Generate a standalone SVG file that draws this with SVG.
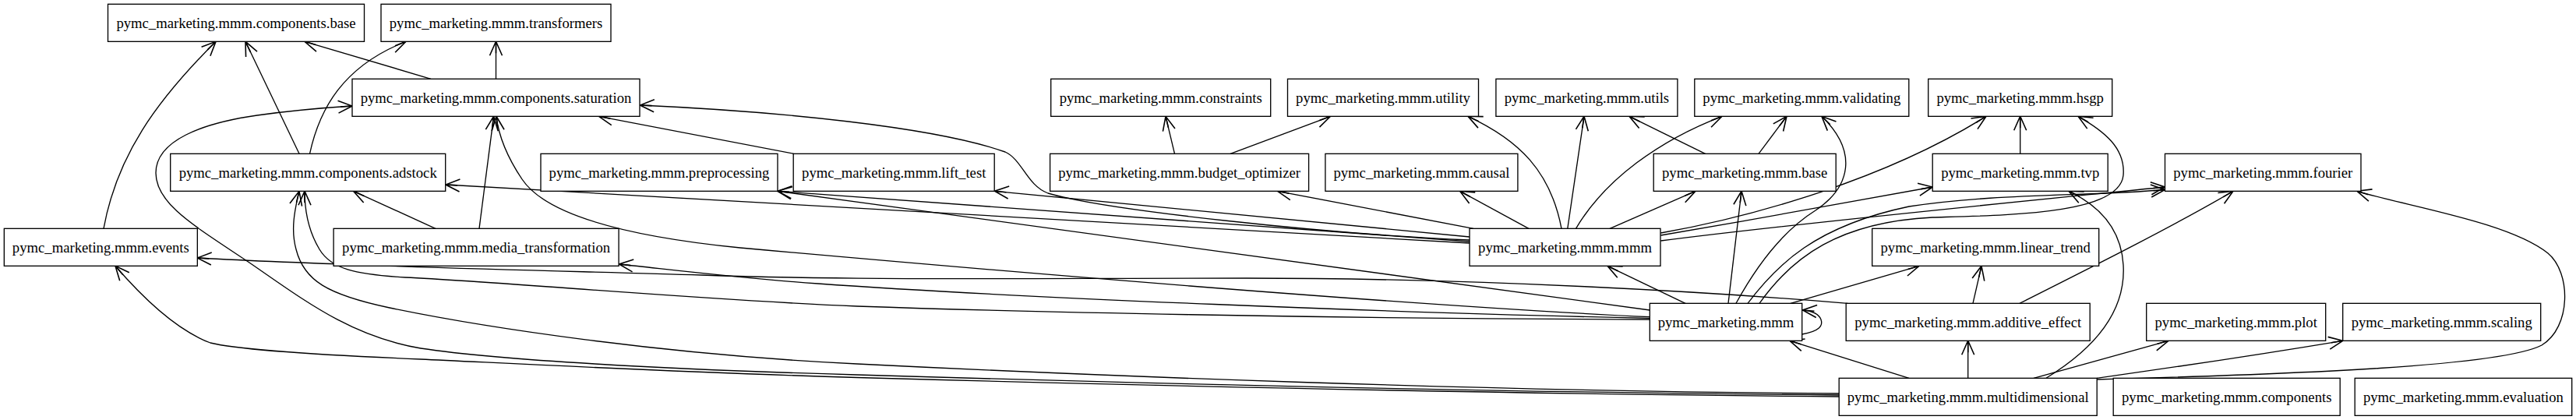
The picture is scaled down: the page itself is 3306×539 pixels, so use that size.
<svg xmlns="http://www.w3.org/2000/svg" width="3306" height="539" viewBox="0 0 3306 539">
<style>
.node rect{fill:#fff;stroke:#000;stroke-width:1.33}
.node text{font-family:"Liberation Serif","Times New Roman",serif;font-size:18.67px;text-anchor:middle;fill:#000}
.edges path{fill:none;stroke:#000;stroke-width:1.33;marker-end:url(#arr)}
</style>
<defs>
<marker id="arr" markerUnits="userSpaceOnUse" viewBox="-20 -10 24 20" markerWidth="24" markerHeight="20" refX="0" refY="0" orient="auto" overflow="visible">
<path d="M-18,-8 L0,0 L-18,8 M-15,0 L0,0" fill="none" stroke="#000" stroke-width="1.6" stroke-linejoin="miter"/>
</marker>
</defs>
<rect width="3306" height="539" fill="#fff"/>
<g class="edges" id="connectors">
<path d="M553,101.3 L391,53.3"/>
<path d="M636.5,101.3 L636.5,53.3"/>
<path d="M384,197.3 L315,53.3"/>
<path d="M397.5,197.3 C410,140 440,85 521,53.3"/>
<path d="M133,293.3 C150,200 200,130 277,53.3"/>
<path d="M559,293.3 L453.6,245.3"/>
<path d="M615,293.3 L633.6,149.3"/>
<path d="M1018.6,197.3 L768.6,149.3"/>
<path d="M1507.5,197.3 L1496,149.3"/>
<path d="M1579,197.3 L1707.5,149.3"/>
<path d="M1891,293.3 L1639.6,245.3"/>
<path d="M1962,293.3 L1873.6,245.3"/>
<path d="M2004,293.3 C1990,220 1950,180 1884,149.3"/>
<path d="M2011.8,293.3 L2033,149.3"/>
<path d="M2022.5,293.3 C2060,230 2130,180 2210,149.3"/>
<path d="M2066,293.3 L2176,245.3"/>
<path d="M2188.6,197.3 L2091,149.3"/>
<path d="M2257,197.3 L2293,149.3"/>
<path d="M1886,308 C1700,300 1420,270 1345,248 C1318,238 1312,205 1290,195 C1200,163 1000,143 821.5,135"/>
<path d="M1886,304 L1276.5,245.3"/>
<path d="M1886,310 L998,245.3"/>
<path d="M1886,312 L572,237"/>
<path d="M2131.4,302 C2250,282 2380,258 2480.2,240"/>
<path d="M2131.4,299 C2250,278 2420,230 2549,149.3"/>
<path d="M2131.4,309 C2300,287 2600,258 2778.5,240"/>
<path d="M2243,389.3 C2280,340 2330,290 2450,265 C2560,248 2680,252 2778.5,243.5"/>
<path d="M2258,389.3 C2300,330 2360,285 2480,279 C2580,276 2720,275 2725,225 C2728,190 2700,168 2667,149.3"/>
<path d="M2228,389.3 C2255,340 2290,295 2330,270 C2375,240 2385,195 2338,149.3"/>
<path d="M2218,389.3 L2235,245.3"/>
<path d="M2298,389.3 L2463,341.3"/>
<path d="M2163,389.3 L2063,341.3"/>
<path d="M2312.7,429 C2335,425 2340,418 2337,410 C2334,402 2325,399 2313.5,398"/>
<path d="M2117.3,398 L998,245.3"/>
<path d="M2117.3,406.7 C1800,392 1250,345 950,318 C800,303 700,275 670,230 C650,200 640,175 637,149.3"/>
<path d="M2117.3,408.3 C1800,402 1300,382 1050,364 C950,357 870,347 794.5,339"/>
<path d="M2117.3,410 C1700,409 1300,400 1100,393 C900,385 650,362 520,356 C455,352 425,345 410,320 C395,295 391,270 391,245.3"/>
<path d="M2360.2,505 C1900,502 1400,482 1100,467 C850,455 620,420 500,395 C420,378 390,360 380,320 C373,295 378,270 384,245.3"/>
<path d="M2360.2,507 C1900,503 1400,490 1100,481 C850,474 640,462 540,447 C450,432 390,385 320,337 C250,290 200,262 200,222 C200,180 260,158 330,148 C380,141 420,138 452,136"/>
<path d="M2360.2,509 C1900,505 1400,493 1100,484.5 C850,477 650,466 540,461 C420,456 310,450 270,440 C230,425 190,390 148,341.3"/>
<path d="M2371.4,389.3 C2200,375 1900,357 1600,357 C1300,357 1100,360 900,353 C700,347 450,342 253.3,331"/>
<path d="M2532,389.3 L2543,341.3"/>
<path d="M2592,389.3 C2680,345 2790,290 2866,245.3"/>
<path d="M2525.7,485.3 L2525.7,437.3"/>
<path d="M2450,485.3 L2297,437.3"/>
<path d="M2626,485.3 C2700,440 2728,390 2725,340 C2722,290 2690,262 2655,245.3"/>
<path d="M2610,485.3 L2783,437.3"/>
<path d="M2691,485.3 C2800,470 2900,455 3006.7,437.3"/>
<path d="M2691,487 C2950,480 3210,470 3262,443 C3300,420 3300,350 3270,325 C3220,285 3090,265 3025,245.3"/>
<path d="M2592.7,197.3 L2592.7,149.3"/>
</g>
<g class="node" id="n_components_base"><rect x="138.5" y="5.33" width="329" height="48"/><text x="303" y="35.8">pymc_marketing.mmm.components.base</text></g>
<g class="node" id="n_transformers"><rect x="489" y="5.33" width="295" height="48"/><text x="636.5" y="35.8">pymc_marketing.mmm.transformers</text></g>
<g class="node" id="n_saturation"><rect x="452" y="101.33" width="369" height="48"/><text x="636.5" y="131.8">pymc_marketing.mmm.components.saturation</text></g>
<g class="node" id="n_constraints"><rect x="1348.7" y="101.33" width="282" height="48"/><text x="1489.7" y="131.8">pymc_marketing.mmm.constraints</text></g>
<g class="node" id="n_utility"><rect x="1652.5" y="101.33" width="245" height="48"/><text x="1775" y="131.8">pymc_marketing.mmm.utility</text></g>
<g class="node" id="n_utils"><rect x="1919.9" y="101.33" width="233" height="48"/><text x="2036.4" y="131.8">pymc_marketing.mmm.utils</text></g>
<g class="node" id="n_validating"><rect x="2174.8" y="101.33" width="275" height="48"/><text x="2312.3" y="131.8">pymc_marketing.mmm.validating</text></g>
<g class="node" id="n_hsgp"><rect x="2474.7" y="101.33" width="236" height="48"/><text x="2592.7" y="131.8">pymc_marketing.mmm.hsgp</text></g>
<g class="node" id="n_adstock"><rect x="218.7" y="197.33" width="353" height="48"/><text x="395.2" y="227.8">pymc_marketing.mmm.components.adstock</text></g>
<g class="node" id="n_preprocessing"><rect x="694" y="197.33" width="304" height="48"/><text x="846" y="227.8">pymc_marketing.mmm.preprocessing</text></g>
<g class="node" id="n_lift_test"><rect x="1018.2" y="197.33" width="258" height="48"/><text x="1147.2" y="227.8">pymc_marketing.mmm.lift_test</text></g>
<g class="node" id="n_budget_optimizer"><rect x="1347.6" y="197.33" width="332" height="48"/><text x="1513.6" y="227.8">pymc_marketing.mmm.budget_optimizer</text></g>
<g class="node" id="n_causal"><rect x="1700.9" y="197.33" width="247" height="48"/><text x="1824.4" y="227.8">pymc_marketing.mmm.causal</text></g>
<g class="node" id="n_base"><rect x="2122.2" y="197.33" width="234" height="48"/><text x="2239.2" y="227.8">pymc_marketing.mmm.base</text></g>
<g class="node" id="n_tvp"><rect x="2480.2" y="197.33" width="225" height="48"/><text x="2592.7" y="227.8">pymc_marketing.mmm.tvp</text></g>
<g class="node" id="n_fourier"><rect x="2778.5" y="197.33" width="251.5" height="48"/><text x="2904.25" y="227.8">pymc_marketing.mmm.fourier</text></g>
<g class="node" id="n_events"><rect x="5.33" y="293.33" width="248" height="48"/><text x="129.33" y="323.8">pymc_marketing.mmm.events</text></g>
<g class="node" id="n_media_transformation"><rect x="428.1" y="293.33" width="366" height="48"/><text x="611.1" y="323.8">pymc_marketing.mmm.media_transformation</text></g>
<g class="node" id="n_mmm_mmm"><rect x="1886" y="293.33" width="245" height="48"/><text x="2008.5" y="323.8">pymc_marketing.mmm.mmm</text></g>
<g class="node" id="n_linear_trend"><rect x="2402.7" y="293.33" width="291" height="48"/><text x="2548.2" y="323.8">pymc_marketing.mmm.linear_trend</text></g>
<g class="node" id="n_mmm"><rect x="2117.3" y="389.33" width="195.4" height="48"/><text x="2215" y="419.8">pymc_marketing.mmm</text></g>
<g class="node" id="n_additive_effect"><rect x="2369.2" y="389.33" width="313" height="48"/><text x="2525.7" y="419.8">pymc_marketing.mmm.additive_effect</text></g>
<g class="node" id="n_plot"><rect x="2754.7" y="389.33" width="230" height="48"/><text x="2869.7" y="419.8">pymc_marketing.mmm.plot</text></g>
<g class="node" id="n_scaling"><rect x="3006.7" y="389.33" width="254" height="48"/><text x="3133.7" y="419.8">pymc_marketing.mmm.scaling</text></g>
<g class="node" id="n_multidimensional"><rect x="2360.2" y="485.33" width="331" height="48"/><text x="2525.7" y="515.8">pymc_marketing.mmm.multidimensional</text></g>
<g class="node" id="n_components"><rect x="2712.2" y="485.33" width="291" height="48"/><text x="2857.7" y="515.8">pymc_marketing.mmm.components</text></g>
<g class="node" id="n_evaluation"><rect x="3022.2" y="485.33" width="278.5" height="48"/><text x="3161.45" y="515.8">pymc_marketing.mmm.evaluation</text></g>
</svg>
